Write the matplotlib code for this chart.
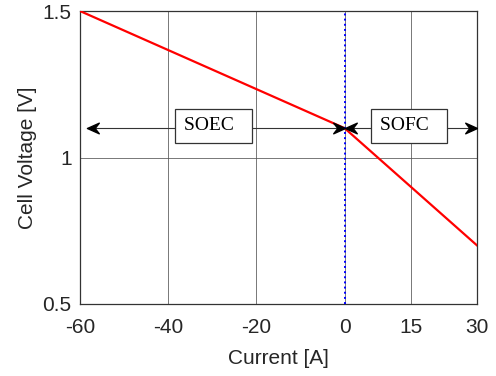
import matplotlib
matplotlib.use("Agg")
import matplotlib.pyplot as plt
from matplotlib.path import Path

# polarization curve of the cell
current = [-60, 0, 30]
voltage = [1.5, 1.1, 0.7]

xticks = [-60, -40, -20, 0, 15, 30]
yticks = [0.5, 1, 1.5]

# region labels: (text, arrow start, arrow end, box left edge)
regions = [("SOEC", -58.5, 0, -38.4), ("SOFC", 0, 30, 6.0)]
arrow_y = 1.1
box_y = 1.108

plt.rcParams['font.family'] = ['Liberation Sans', 'DejaVu Sans']

fig = plt.figure(figsize=(4.96, 3.76), dpi=100)
ax = fig.add_axes([0.1613, 0.1915, 0.8004, 0.7792])

ax.plot(current, voltage, color='red', lw=1.6, zorder=4)
ax.axvline(0, color='blue', lw=1.4, ls=':', zorder=5)

# concave arrow head pointing right, tip at the point
head = Path([(0, 0), (-1, 0.45), (-0.65, 0), (-1, -0.45), (0, 0)],
            [Path.MOVETO, Path.LINETO, Path.LINETO, Path.LINETO, Path.CLOSEPOLY])
head_left = Path(-head.vertices, head.codes)

for name, x0, x1, xl in regions:
    ax.plot([x0, x1], [arrow_y, arrow_y], color='#333333', lw=0.8, zorder=3)
    ax.plot([x0], [arrow_y], marker=head_left, ms=17, color='black', zorder=6)
    ax.plot([x1], [arrow_y], marker=head, ms=17, color='black', zorder=6)
    ax.text(xl + 2.0, box_y, name + '  ', family='Liberation Serif', fontsize=14,
            ha='left', va='center', zorder=7,
            bbox=dict(boxstyle='square,pad=0.45', fc='white', ec='#333333', lw=0.9))

ax.set_xlim(-60, 30)
ax.set_ylim(0.5, 1.5)
ax.set_xticks(xticks)
ax.set_xticklabels([str(t) for t in xticks])
ax.set_yticks(yticks)
ax.set_yticklabels(['0.5', '1', '1.5'])
ax.tick_params(axis='both', length=0, labelsize=15, colors='#262626')
ax.tick_params(axis='x', pad=10)
ax.tick_params(axis='y', pad=6)
ax.grid(True, color='#555555', lw=0.7, alpha=0.8)
ax.set_axisbelow(True)
for s in ax.spines.values():
    s.set_color('#333333')
    s.set_linewidth(0.9)

ax.set_xlabel('Current [A]', fontsize=15, color='#262626', labelpad=9)
ax.set_ylabel('Cell Voltage [V]', fontsize=15, color='#262626', labelpad=4)

fig.savefig('out.png', dpi=100)
